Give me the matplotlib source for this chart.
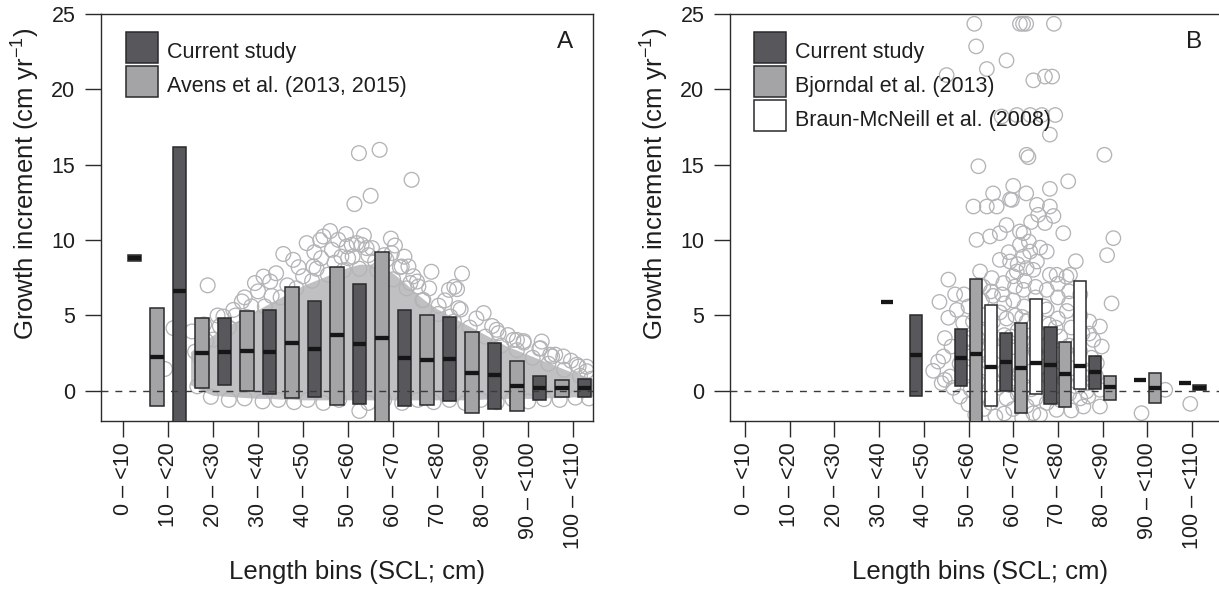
import numpy as np
import matplotlib
matplotlib.use("Agg")
import matplotlib.pyplot as plt
from matplotlib.patches import Rectangle

plt.rcParams['font.family'] = ['Liberation Sans', 'DejaVu Sans']
plt.rcParams['mathtext.fontset'] = 'custom'
plt.rcParams['mathtext.rm'] = 'Liberation Sans'
plt.rcParams['mathtext.it'] = 'Liberation Sans:italic'

W, H = 1219, 589

bins = ['0 – <10', '10 – <20', '20 – <30', '30 – <40', '40 – <50', '50 – <60',
        '60 – <70', '70 – <80', '80 – <90', '90 – <100', '100 – <110']
nan = np.nan

# ---- panel A : current study vs Avens et al.
cur_a_q1 = [8.62, -3.0, 0.38, -0.22, -0.42, -0.88, -0.99, -0.66, -1.21, -0.60, -0.42]
cur_a_med = [8.8, 6.62, 2.60, 2.60, 2.78, 3.09, 2.20, 2.12, 1.02, 0.22, 0.22]
cur_a_q3 = [8.98, 16.18, 4.82, 5.36, 5.98, 7.09, 5.36, 4.88, 3.16, 0.98, 0.77]

avens_q1 = [nan, -1.00, 0.22, -0.04, -0.49, -0.93, -3.0, -0.93, -1.48, -1.32, -0.38]
avens_med = [nan, 2.27, 2.54, 2.65, 3.20, 3.69, 3.53, 2.05, 1.21, 0.33, 0.22]
avens_q3 = [nan, 5.47, 4.86, 5.32, 6.87, 8.23, 9.18, 5.06, 3.89, 2.01, 0.73]

# dense part of the Avens cloud (bin units / cm yr-1)
cloud_a_x = [1.5, 1.75, 2.0, 2.25, 2.5, 2.75, 3.0, 3.25, 3.5, 3.75, 4.0, 4.25, 4.5,
             4.75, 5.0, 5.25, 5.5, 5.75, 6.0, 6.25, 6.5, 6.75, 7.0, 7.25, 7.5,
             7.75, 8.0, 8.25, 8.5, 8.75, 9.0, 9.25, 9.5, 9.75, 10.0, 10.25, 10.44]
cloud_a_hi = [2.6, 3.2, 3.7, 4.2, 4.6, 5.0, 5.4, 5.8, 6.2, 6.6, 7.0, 7.3, 7.6,
              7.9, 8.2, 8.4, 8.4, 8.2, 7.8, 7.2, 6.5, 5.9, 5.4, 5.0, 4.6,
              4.2, 3.8, 3.4, 3.0, 2.7, 2.4, 2.1, 1.8, 1.5, 1.2, 1.0, 0.8]
cloud_a_lo = [0.4, 0.0, -0.3, -0.35, -0.4, -0.45, -0.5, -0.5, -0.55, -0.55, -0.6,
              -0.6, -0.6, -0.6, -0.6, -0.6, -0.6, -0.6, -0.6, -0.6, -0.6, -0.6,
              -0.6, -0.6, -0.6, -0.6, -0.55, -0.55, -0.5, -0.5, -0.5, -0.5, -0.45,
              -0.45, -0.4, -0.4, -0.35]

pts_a_x = [0.93, 1.12, 1.53, 1.88, 1.60, 1.75, 2.23, 2.45, 2.64, 2.93, 3.12, 3.27,
           3.56, 3.78, 4.08, 4.23, 4.38, 4.45, 4.60, 4.64, 4.78, 4.97, 5.08, 5.19,
           5.30, 5.41, 5.53, 5.97, 6.04, 6.19, 6.34, 6.38, 6.53, 6.56, 6.67, 7.01,
           7.24, 7.36, 7.42, 7.45, 7.27, 7.53, 8.01, 8.30, 8.34, 8.67, 8.75, 8.90,
           9.27, 9.30, 9.49, 9.53, 9.78, 10.08, 10.12, 10.30,
           5.24, 5.70, 6.41, 5.50, 5.14, 5.25,
           5.0, 5.6, 5.8, 4.85, 4.4, 3.9, 3.4, 3.0, 2.7, 2.1, 1.8,
           1.65, 1.95, 2.35, 2.7, 3.1, 3.45, 3.8, 4.1, 4.45, 4.8, 5.45, 5.8, 6.2,
           6.55, 6.9, 7.25, 7.6, 7.95, 8.3, 8.65, 9.0, 9.35, 9.7, 10.05, 10.35,
           2.0, 2.35, 2.75, 3.15, 3.5, 3.85, 4.2, 4.55, 4.9, 5.25, 5.65, 6.0, 6.3,
           6.65, 7.0, 7.35, 7.7, 8.05, 8.4, 8.75, 9.1, 9.45, 9.8, 10.15, 10.4,
           2.15, 2.5, 2.85, 3.3, 3.65, 4.0, 4.3, 4.7, 5.1, 5.45, 5.85, 6.15, 6.45,
           6.8, 7.15, 7.5, 7.85, 8.2, 8.55, 8.9, 9.25, 9.6, 9.95, 10.3,
           1.7, 1.85, 5.35, 5.95, 4.95, 4.25, 6.25, 6.85]
pts_a_y = [1.45, 4.16, 3.94, 7.00, 2.6, 1.2, 4.93, 5.37, 5.93, 7.15, 7.58, 7.25,
           9.08, 8.69, 9.80, 8.25, 10.0, 10.24, 10.6, 9.36, 10.02, 9.58, 9.69, 9.80,
           9.69, 9.47, 9.47, 9.14, 9.64, 8.25, 8.25, 7.15, 7.25, 6.92, 6.04, 5.65,
           6.70, 6.90, 6.75, 5.49, 4.93, 7.78, 5.16, 4.05, 3.83, 3.38, 3.38, 3.20,
           2.83, 3.27, 2.39, 2.28, 2.28, 1.73, 1.61, 1.30,
           15.77, 15.99, 14.0, 12.94, 12.39, -1.33,
           8.8, 8.6, 9.0, 8.9, 8.8, 8.2, 7.8, 6.6, 6.2, 5.0, 4.4,
           0.3, -0.4, -0.6, -0.5, -0.7, -0.6, -0.75, -0.6, -0.8, -0.6, -0.8, -0.6,
           -0.8, -0.6, -0.75, -0.6, -0.8, -0.6, -0.75, -0.55, -0.7, -0.55, -0.6,
           -0.45, -0.5,
           3.4, 4.2, 4.9, 5.6, 6.2, 6.8, 7.3, 7.7, 8.0, 8.1, 8.0, 7.4, 6.8,
           6.0, 5.1, 4.6, 4.2, 3.6, 3.0, 2.7, 2.2, 1.8, 1.4, 1.0, 0.8,
           4.3, 5.0, 5.6, 6.3, 7.0, 7.6, 8.1, 8.5, 8.9, 9.0, 8.7, 8.2, 7.6,
           6.8, 6.0, 5.4, 4.8, 4.3, 3.7, 3.3, 2.8, 2.4, 2.0, 1.6,
           2.2, 3.3, 10.3, 10.1, 10.4, 9.2, 8.9, 7.9]

# ---- panel B : current study vs Bjorndal et al. vs Braun-McNeill et al.
cur_b_q1 = [nan, nan, nan, nan, -0.31, 0.33, 0.0, -0.88, 0.11, 0.73, 0.51]
cur_b_med = [nan, nan, nan, nan, 2.38, 2.21, 1.94, 1.72, 1.28, 0.73, 0.51]
cur_b_q3 = [nan, nan, nan, nan, 5.03, 4.08, 3.82, 4.26, 2.34, 0.73, 0.51]

bjorn_q1 = [nan, nan, nan, 5.92, nan, -3.0, -1.48, -1.04, -0.60, -0.82, nan]
bjorn_med = [nan, nan, nan, 5.92, nan, 2.43, 1.50, 1.13, 0.24, 0.22, nan]
bjorn_q3 = [nan, nan, nan, 5.92, nan, 7.40, 4.53, 3.27, 0.99, 1.21, nan]

# small dark box drawn right of the 100 - <110 dash
extra_b_q1 = [nan, nan, nan, nan, nan, nan, nan, nan, nan, nan, 0.07]
extra_b_med = [nan, nan, nan, nan, nan, nan, nan, nan, nan, nan, 0.22]
extra_b_q3 = [nan, nan, nan, nan, nan, nan, nan, nan, nan, nan, 0.40]

braun_q1 = [nan, nan, nan, nan, nan, -0.99, -0.22, 0.11, nan, nan, nan]
braun_med = [nan, nan, nan, nan, nan, 1.57, 1.88, 1.66, nan, nan, nan]
braun_q3 = [nan, nan, nan, nan, nan, 5.70, 6.09, 7.31, nan, nan, nan]

pts_b_x = [5.13, 6.15, 6.22, 6.29, 6.91, 5.17, 5.85, 5.41, 4.51, 6.45, 6.71, 6.87,
           5.74, 6.08, 6.38, 6.64, 6.94, 6.82, 6.30, 6.34, 5.22, 8.04,
           7.23, 6.82, 6.29, 5.93, 5.55, 5.11, 5.41, 5.63, 5.97, 6.53, 6.82, 6.56, 6.71,
           6.15, 6.23, 5.70, 5.48, 5.18, 7.12, 8.24,
           6.15, 6.38, 6.75, 6.23, 5.70, 5.93, 6.53, 6.30, 6.08, 6.45, 6.82, 6.97, 7.27,
           5.26, 5.52, 5.78, 6.04, 6.23, 4.55, 7.19, 5.33,
           4.21, 4.32, 4.44, 4.47, 4.55, 4.74, 4.88, 5.03, 4.62, 4.59, 4.40, 4.66, 4.81, 4.47,
           7.94, 7.79, 7.98, 7.87, 7.79, 7.94, 7.68, 7.64, 7.94, 7.57, 6.97, 6.45, 8.87, 9.96, 9.40,
           5.0, 5.1, 5.05, 5.0, 5.05, 5.0, 5.15, 5.3, 5.35, 5.3, 5.4, 5.3, 5.35,
           5.55, 5.55, 5.5, 5.6, 5.5, 5.6, 5.8, 5.85, 5.8, 5.75, 5.8, 5.85, 5.8,
           6.0, 6.05, 6.1, 6.0, 6.05, 6.1, 6.0, 6.25, 6.3, 6.2, 6.3, 6.25, 6.3, 6.2,
           6.5, 6.5, 6.55, 6.5, 6.5, 6.6, 6.75, 6.8, 6.75, 6.8, 6.75,
           7.0, 7.0, 7.05, 7.0, 7.0, 7.05, 7.25, 7.3, 7.25, 7.3, 7.25, 7.3,
           7.5, 7.55, 7.5, 7.55, 7.5, 7.7, 7.75, 7.7, 4.9, 4.8, 4.95,
           5.2, 5.45, 5.65, 5.9, 6.15, 6.4, 6.65, 6.9, 7.15, 7.4, 7.65, 7.85,
           5.2, 5.45, 5.7, 5.95, 6.2, 6.45, 6.7, 6.95, 7.2, 7.45, 7.7,
           5.25, 5.5, 5.75, 6.0, 6.25, 6.5, 6.75, 7.0, 7.25, 7.5,
           5.9, 6.1, 6.35, 6.6, 6.4, 5.85, 6.0, 6.9, 7.4, 8.1, 8.2, 4.35, 4.7]
pts_b_y = [24.35, 24.35, 24.35, 24.35, 24.35, 22.85, 21.92, 21.35, 20.95, 20.6, 20.85, 20.85,
           18.2, 18.3, 18.3, 18.3, 18.3, 17.0, 15.66, 15.5, 14.9, 15.66,
           13.9, 13.4, 13.1, 12.7, 13.1, 12.23, 12.23, 12.23, 12.67, 12.34, 12.23, 11.68, 11.13,
           10.57, 10.46, 10.46, 10.24, 10.02, 10.46, 10.13,
           9.69, 9.24, 9.24, 8.91, 8.69, 8.58, 8.58, 8.14, 7.92, 8.03, 7.70, 7.70, 7.70,
           7.92, 7.48, 7.15, 6.92, 6.70, 7.38, 7.57, 6.91,
           1.33, 1.94, 2.28, 3.5, 4.85, 5.37, 4.49, 3.5, 2.94, 0.95, 0.51, 0.2, -0.38, 0.73,
           4.27, 3.38, 2.94, 1.84, 0.62, 0.07, -0.38, -0.04, -1.04, -1.04, -1.26, -1.48, -1.48, -0.86, 0.07,
           5.6, 4.6, 2.5, 1.2, 0.1, -0.9, -1.6, 6.0, 5.0, 3.9, 1.5, -0.3, -1.2,
           6.3, 4.6, 3.2, 0.5, -0.8, -1.7, 5.8, 4.8, 3.7, 2.6, 1.3, -0.5, -1.5,
           6.0, 5.0, 4.0, 2.9, 0.8, -0.2, -1.2, 5.6, 4.6, 3.3, 2.2, 0.3, -1.0, -1.8,
           6.2, 5.0, 3.8, 2.6, -0.5, -1.6, 5.4, 4.4, 3.0, 0.9, -0.8,
           6.2, 4.8, 3.6, 2.4, 0.4, -0.6, 5.8, 4.2, 3.0, 1.5, -0.2, -1.3,
           5.0, 3.8, 2.6, 1.0, -0.5, 4.6, 2.2, 1.2, 6.4, 1.8, 3.2,
           0.6, 1.9, 0.2, 0.4, 1.2, 0.1, 1.6, 1.1, 0.7, 0.3, 0.5, 1.0,
           3.5, 2.4, 5.2, 3.6, 4.9, 3.2, 5.6, 4.2, 5.3, 3.1, 3.8,
           7.0, 6.6, 6.4, 7.6, 7.3, 6.9, 6.7, 7.1, 6.6, 6.4,
           9.2, 8.4, 9.9, 9.5, 11.2, 11.0, 13.6, 11.6, 8.6, 9.0, 5.8, 5.9, 6.4]

DARK = '#58585c'
LIGHT = '#a4a4a7'
WHITE = '#ffffff'
EDGE = '#2a2a2c'
MED = '#161616'
CIRC = '#b4b4b7'
CORE = '#c0c0c3'
AXC = '#2b2b2b'
TXT = '#1e1e1e'


def draw_boxes(ax, pos, q1, med, q3, width, face):
    for x, lo, m, hi in zip(pos, q1, med, q3):
        if np.isnan(m):
            continue
        if hi > lo:
            ax.bar(x, hi - lo, bottom=lo, width=width, color=face,
                   edgecolor=EDGE, linewidth=1.1, zorder=3)
        ax.plot([x - width / 2, x + width / 2], [m, m], color=MED,
                linewidth=3.1, solid_capstyle='butt', zorder=4)


def style_axis(ax, xlim):
    ax.set_xlim(*xlim)
    ax.set_ylim(-2, 25)
    ax.set_yticks([0, 5, 10, 15, 20, 25])
    ax.set_xticks(range(len(bins)))
    ax.set_xticklabels(bins, rotation=90, ha='center', va='top')
    for s in ax.spines.values():
        s.set_color(AXC)
        s.set_linewidth(1.0)
    ax.tick_params(axis='both', length=11.5, width=1.0, color=AXC,
                   labelsize=15.5, labelcolor=TXT)
    ax.tick_params(axis='y', pad=7)
    ax.tick_params(axis='x', pad=3.6)
    ax.axhline(0, color='#3a3a3a', linewidth=1.0, linestyle=(0, (5, 5)), zorder=5)


def legend_rows(fig, x0, labels, faces):
    # handles 32 x 31 px, rows 34 px apart, first row top at 32 px
    for i, (lab, fc) in enumerate(zip(labels, faces)):
        top_px = 32 + 34 * i
        fig.patches.append(Rectangle((x0 / W, 1 - (top_px + 31) / H), 32 / W, 31 / H,
                                     facecolor=fc, edgecolor=EDGE, linewidth=1.1,
                                     transform=fig.transFigure, figure=fig))
        fig.text((x0 + 41) / W, 1 - (top_px + 26) / H, lab, ha='left', va='baseline',
                 fontsize=15.5, color=TXT)


fig = plt.figure(figsize=(W / 100, H / 100), dpi=100)
bot = 1 - 421 / H
top = 1 - 14 / H
ax1 = fig.add_axes([101 / W, bot, (593 - 101) / W, top - bot])
ax2 = fig.add_axes([730 / W, bot, (1222 - 730) / W, top - bot])

pos = np.arange(len(bins))

# panel A
ax1.fill_between(cloud_a_x, cloud_a_lo, cloud_a_hi, color=CORE, linewidth=0, zorder=1)
ax1.scatter(pts_a_x, pts_a_y, s=10.6 ** 2, facecolors='none', edgecolors=CIRC,
            linewidths=0.95, zorder=2)
draw_boxes(ax1, pos - 0.25, avens_q1, avens_med, avens_q3, 0.3, LIGHT)
draw_boxes(ax1, pos + 0.25, cur_a_q1, cur_a_med, cur_a_q3, 0.3, DARK)
style_axis(ax1, (-0.49, 10.44))

# panel B
ax2.scatter(pts_b_x, pts_b_y, s=10.4 ** 2, facecolors='none', edgecolors=CIRC,
            linewidths=0.95, zorder=2)
draw_boxes(ax2, pos - 1 / 6, cur_b_q1, cur_b_med, cur_b_q3, 0.27, DARK)
draw_boxes(ax2, pos + 1 / 6, bjorn_q1, bjorn_med, bjorn_q3, 0.27, LIGHT)
draw_boxes(ax2, pos + 1 / 6, extra_b_q1, extra_b_med, extra_b_q3, 0.27, DARK)
draw_boxes(ax2, pos + 0.5, braun_q1, braun_med, braun_q3, 0.27, WHITE)
style_axis(ax2, (-0.335, 10.67))

legend_rows(fig, 126, ['Current study', 'Avens et al. (2013, 2015)'], [DARK, LIGHT])
legend_rows(fig, 754, ['Current study', 'Bjorndal et al. (2013)',
                       'Braun-McNeill et al. (2008)'], [DARK, LIGHT, WHITE])

fig.text(573 / W, 1 - 42 / H, 'A', ha='right', va='center', fontsize=17.5, color=TXT)
fig.text(1202 / W, 1 - 42 / H, 'B', ha='right', va='center', fontsize=17.5, color=TXT)

ylab = r'Growth increment (cm yr$^{\mathregular{-1}}$)'
for xp in (26, 655):
    fig.text(xp / W, 1 - 184 / H, ylab, rotation=90, ha='center', va='center',
             fontsize=18.5, color=TXT)
for xp in (357, 980):
    fig.text(xp / W, 1 - 572 / H, 'Length bins (SCL; cm)', ha='center', va='center',
             fontsize=18.5, color=TXT)

fig.savefig('out.png', dpi=100)
